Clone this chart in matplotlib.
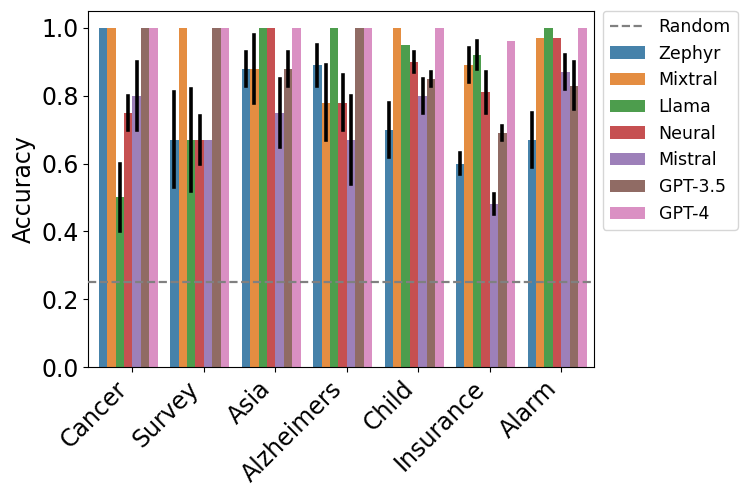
import numpy as np
import matplotlib
matplotlib.use("Agg")
import matplotlib.pyplot as plt
import seaborn as sns

datasets = ["Cancer", "Survey", "Asia", "Alzheimers", "Child", "Insurance", "Alarm"]
models = ["Zephyr", "Mixtral", "Llama", "Neural", "Mistral", "GPT-3.5", "GPT-4"]

# accuracy per model, one value per dataset
zephyr  = [1.00, 0.67, 0.88, 0.89, 0.70, 0.60, 0.67]
mixtral = [1.00, 1.00, 0.88, 0.78, 1.00, 0.89, 0.97]
llama   = [0.50, 0.67, 1.00, 1.00, 0.95, 0.92, 1.00]
neural  = [0.75, 0.67, 1.00, 0.78, 0.90, 0.81, 0.97]
mistral = [0.80, 0.67, 0.75, 0.67, 0.80, 0.48, 0.87]
gpt35   = [1.00, 1.00, 0.88, 1.00, 0.85, 0.69, 0.83]
gpt4    = [1.00, 1.00, 1.00, 1.00, 1.00, 0.96, 1.00]

# half width of error bars (0 = none drawn)
zephyr_err  = [0.00, 0.14, 0.05, 0.06, 0.08, 0.03, 0.08]
mixtral_err = [0.00, 0.00, 0.10, 0.11, 0.00, 0.05, 0.00]
llama_err   = [0.10, 0.15, 0.00, 0.00, 0.00, 0.04, 0.00]
neural_err  = [0.05, 0.07, 0.00, 0.08, 0.03, 0.06, 0.00]
mistral_err = [0.10, 0.00, 0.10, 0.13, 0.05, 0.03, 0.05]
gpt35_err   = [0.00, 0.00, 0.05, 0.00, 0.02, 0.02, 0.07]
gpt4_err    = [0.00, 0.00, 0.00, 0.00, 0.00, 0.00, 0.00]

random_acc = 0.25

vals = [zephyr, mixtral, llama, neural, mistral, gpt35, gpt4]
errs = [zephyr_err, mixtral_err, llama_err, neural_err, mistral_err, gpt35_err, gpt4_err]

colors = sns.color_palette("tab10", len(models), desat=0.75)

fig = plt.figure(figsize=(7.48, 4.98), dpi=100)
ax = fig.add_axes([0.118, 0.263, 0.676, 0.715])

x = np.arange(len(datasets))
w = 0.118
shift = -0.056  # groups sit a bit left of the ticks in the original
ax.axhline(random_acc, color="grey", ls="--", lw=1.6, label="Random", zorder=3)
for j, m in enumerate(models):
    pos = x + shift + (j - (len(models) - 1) / 2) * w
    ax.bar(pos, vals[j], width=w, color=colors[j], alpha=0.9, label=m, zorder=1)
    for p, vv, ee in zip(pos, vals[j], errs[j]):
        if ee > 0:
            ax.plot([p, p], [vv - ee, vv + ee], color="black", lw=2.6, zorder=2)

ax.set_xlim(-0.615, 6.46)
ax.set_ylim(0, 1.05)
ax.set_xticks(x)
ax.set_xticklabels(datasets, rotation=45, ha="right", fontsize=17)
ax.tick_params(axis="y", labelsize=17)
ax.set_yticks([0.0, 0.2, 0.4, 0.6, 0.8, 1.0])
ax.set_ylabel("Accuracy", fontsize=17)

ax.legend(loc="upper left", bbox_to_anchor=(1.018, 1.0), fontsize=12.5, borderaxespad=0)

fig.savefig("out.png", dpi=100)
